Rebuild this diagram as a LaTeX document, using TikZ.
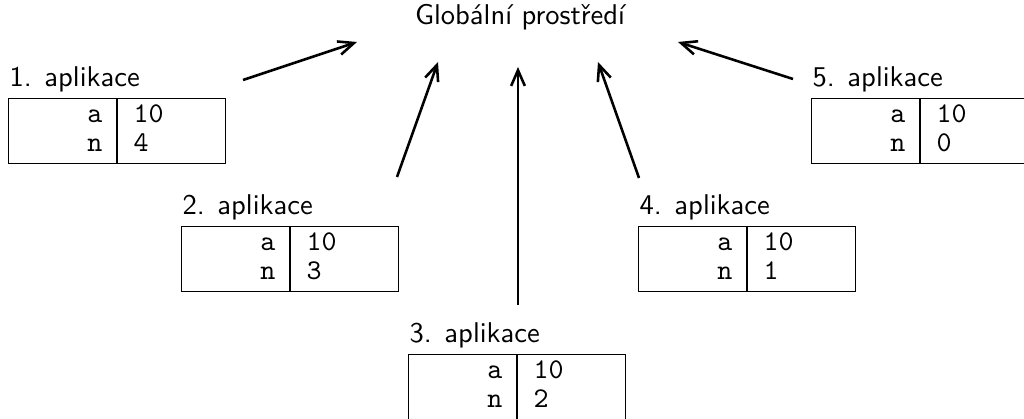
\documentclass[tikz,border=0pt]{standalone}
\usepackage{fontspec}
\usetikzlibrary{arrows.meta}
\tikzset{
  lbl/.style={font=\sffamily, anchor=base west, inner sep=0pt},
  cellkey/.style={font=\ttfamily, anchor=base east, inner sep=0pt},
  cellval/.style={font=\ttfamily, anchor=base west, inner sep=0pt},
  frame/.style={draw, line width=0.4pt, anchor=north west, inner sep=0pt, minimum width=217*0.35pt, minimum height=65*0.35pt},
  link/.style={line width=0.9pt, -{Straight Barb[length=5.5pt,width=4.8pt]}},
}
\newcommand{\appbox}[6]{%
  % #1 name, #2 x, #3 y (top), #4 label, #5 a value, #6 n value
  \node[frame] (#1) at (#2,#3) {};
  \node[lbl] (#1l) at (#2+1,#3-11) {#4};
  \coordinate (#1t) at (#2+109,#3);
  \coordinate (#1b) at (#2+109,#3+65);
  \draw[line width=0.4pt] (#1t) -- (#1b);
  \node[cellkey] (#1ka) at (#2+95,#3+25) {a};
  \node[cellval] (#1va) at (#2+125,#3+25) {#5};
  \node[cellkey] (#1kn) at (#2+95,#3+54) {n};
  \node[cellval] (#1vn) at (#2+125,#3+54) {#6};
}
\begin{document}
\begin{tikzpicture}[x=0.35pt,y=-0.35pt]
\useasboundingbox (0,0) rectangle (1024,419);
\node[font=\sffamily, anchor=base, inner sep=0pt] (g) at (520,25) {Globální prostředí};
\appbox{b1}{8}{98}{1. aplikace}{10}{4}
\appbox{b2}{181}{226}{2. aplikace}{10}{3}
\appbox{b3}{408}{354}{3. aplikace}{10}{2}
\appbox{b4}{638}{226}{4. aplikace}{10}{1}
\appbox{b5}{811}{98}{5. aplikace}{10}{0}
\coordinate (t1) at (243,80);  \coordinate (h1) at (357,42);
\coordinate (t2) at (397,177); \coordinate (h2) at (438,62);
\coordinate (t3) at (518,305); \coordinate (h3) at (518,67);
\coordinate (t4) at (639,178); \coordinate (h4) at (598,62);
\coordinate (t5) at (793,79);  \coordinate (h5) at (678,42);
\foreach \i in {1,...,5} \draw[link] (t\i) -- (h\i);
\end{tikzpicture}
\end{document}
